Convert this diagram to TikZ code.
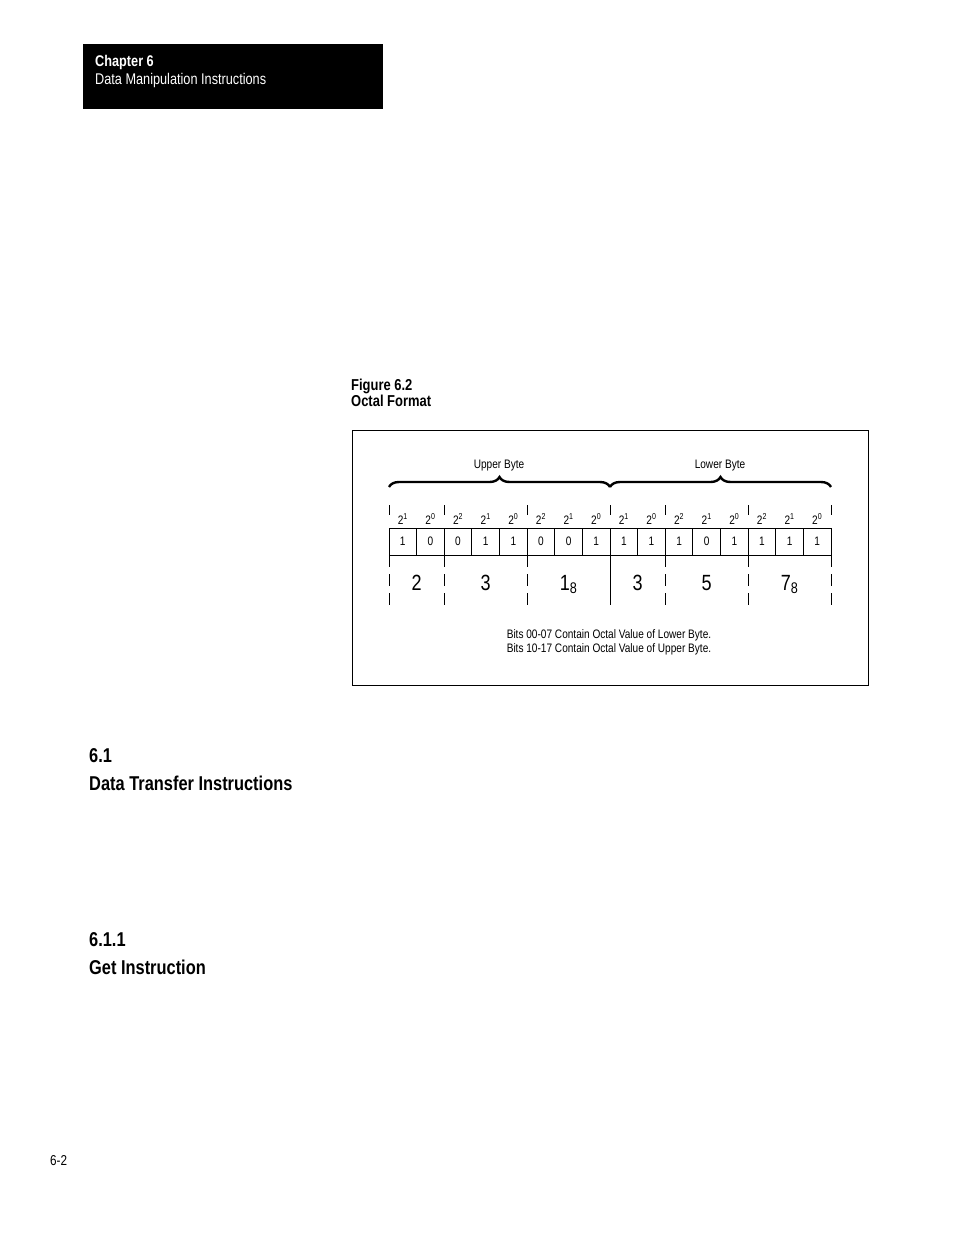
\documentclass[tikz,border=0pt]{standalone}
\usepackage{fontspec}
\setmainfont{Liberation Sans}[FakeStretch=0.82]
\usetikzlibrary{decorations.pathreplacing}

\begin{document}
\begin{tikzpicture}[x=1pt, y=-1pt, font=\fontsize{12.3}{14}\selectfont,
		txt/.style={anchor=base west, inner sep=0pt},
		cell/.style={draw, line width=0.8pt, minimum width=27.625pt, minimum height=27pt, inner sep=0pt},
		sep/.style={line width=0.8pt, dash pattern=on 10pt off 13pt},
		sepdown/.style={line width=0.8pt, dash pattern=on 12pt off 7pt},
		brc/.style={decorate, decoration={brace, amplitude=10pt}, line width=2.4pt}]
		\path[use as bounding box, fill=white] (0,0) rectangle (954,1235);

		% page head
		\node[fill=black, minimum width=300pt, minimum height=65pt, inner sep=0pt, anchor=north west] (chapbox) at (83,44) {};
		\node[txt, text=white, font=\fontsize{15.5}{18}\selectfont\bfseries] (chap) at (95,66) {Chapter 6};
		\node[txt, text=white, font=\fontsize{15.5}{18}\selectfont] (chaptitle) at (95,84) {Data Manipulation Instructions};

		\node[txt, font=\fontsize{15.8}{18}\selectfont\bfseries] (fignum) at (351,390) {Figure 6.2};
		\node[txt, font=\fontsize{15.8}{18}\selectfont\bfseries] (figtitle) at (351,406) {Octal Format};

		% figure
		\node[draw, line width=1.9pt, minimum width=516pt, minimum height=255pt, inner sep=0pt, anchor=north west] (frame) at (351.5,429.5) {};

		\coordinate (ub0) at (389,487);
		\coordinate (ub1) at (610,487);
		\coordinate (lb1) at (831,487);
		\draw[brc] (ub0) -- (ub1);
		\draw[brc] (ub1) -- (lb1);
		\node[anchor=base] (upper) at (499,468) {Upper Byte};
		\node[anchor=base] (lower) at (720,468) {Lower Byte};

		\foreach \v [count=\i from 0] in {1,0,0,1,1,0,0,1,1,1,1,0,1,1,1,1}
			\node[cell] (c\i) at ({402.8+27.625*\i},541.5) {\v};
		\foreach \e [count=\i from 0] in {1,0,2,1,0,2,1,0,1,0,2,1,0,2,1,0}
			\node[anchor=base, inner sep=0pt] (e\i) at ({402.8+27.625*\i},524) {2\textsuperscript{\e}};

		\foreach \k [count=\i from 0] in {0,2,5,8,10,13,16} {
			\coordinate (t\i) at ({389+27.625*\k},505);
			\coordinate (u\i) at ({389+27.625*\k},528);
			\coordinate (l\i) at ({389+27.625*\k},555);
			\coordinate (b\i) at ({389+27.625*\k},605);
		}
		\foreach \i in {0,1,2,4,5,6}
			\path (t\i) edge[sep] (u\i)
			(l\i) edge[sepdown] (b\i);
		\path (t3) edge[sep] (u3)
		(l3) edge[line width=0.8pt] (b3);

		\foreach \d/\x [count=\i] in {2/416.6, 3/485.7, 1\textsubscript{8}/568.6, 3/637.6, 5/706.7, 7\textsubscript{8}/789.6}
			\node[anchor=base, inner sep=0pt, font=\fontsize{22}{26}\selectfont] (g\i) at (\x,590) {\d};

		\node[anchor=base] (note1) at (609,638) {Bits 00-07 Contain Octal Value of Lower Byte.};
		\node[anchor=base] (note2) at (609,652) {Bits 10-17 Contain Octal Value of Upper Byte.};

		% sections
		\node[txt, font=\fontsize{20}{24}\selectfont\bfseries] (secnum) at (89,762) {6.1};
		\node[txt, font=\fontsize{20}{24}\selectfont\bfseries] (sectitle) at (89,790) {Data Transfer Instructions};
		\node[txt, font=\fontsize{20}{24}\selectfont\bfseries] (subnum) at (89,946) {6.1.1};
		\node[txt, font=\fontsize{20}{24}\selectfont\bfseries] (subtitle) at (89,974) {Get Instruction};

		\node[txt, font=\fontsize{14.3}{17}\selectfont] (page) at (50,1165) {6-2};
	\end{tikzpicture}
\end{document}
